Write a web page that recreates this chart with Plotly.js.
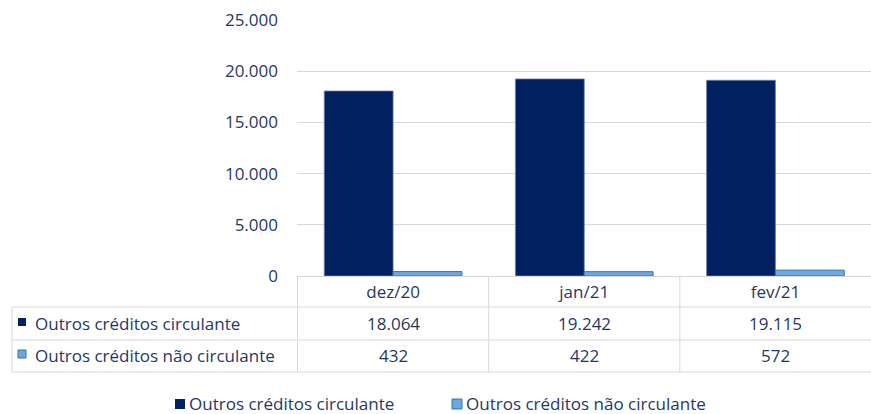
<!DOCTYPE html>
<html>
<head>
<meta charset="utf-8">
<script src="https://cdn.plot.ly/plotly-3.0.1.min.js"></script>
<style>html,body{margin:0;padding:0;background:#fff;}#chart{width:871px;height:414px;}</style>
</head>
<body>
<div id="chart"></div>
<script>
const categories = ['dez/20', 'jan/21', 'fev/21'];
const seriesNames = ['Outros créditos circulante', 'Outros créditos não circulante'];
const circulante = [18064, 19242, 19115];
const naoCirculante = [432, 422, 572];
const yTicks = [0, 5000, 10000, 15000, 20000, 25000];

const colorDark = '#002060';
const colorLight = '#6FA8DC';
const textColor = '#1F3864';
const gridColor = '#D9D9D9';
const FONT = 'Open Sans, Noto Sans, sans-serif';
const FS = 17;

function fmt(v) { return String(v).replace(/\B(?=(\d{3})+(?!\d))/g, '.'); }

const W = 871, H = 414, L = 297, T = 20, B = 138;
const plotW = W - L, plotH = H - T - B;
const px = x => (x - L) / plotW;
const py = y => (H - B - y) / plotH;

const seriesColors = [colorDark, colorLight];
const seriesLines = [{color: '#6B7FAE', width: 0.8}, {color: '#2E75B6', width: 1}];

const traces = [
  {type: 'bar', name: seriesNames[0], x: categories, y: circulante,
   marker: {color: seriesColors[0], line: seriesLines[0]}, hoverinfo: 'skip', showlegend: false},
  {type: 'bar', name: seriesNames[1], x: categories, y: naoCirculante,
   marker: {color: seriesColors[1], line: seriesLines[1]}, hoverinfo: 'skip', showlegend: false}
];

const shapes = [];
const lineStyle = {color: gridColor, width: 1};
// horizontal table lines
[307, 340, 372].forEach(y => shapes.push({type: 'line', xref: 'paper', yref: 'paper',
  x0: px(12), x1: 1, y0: py(y), y1: py(y), line: lineStyle}));
// vertical table lines
shapes.push({type: 'line', xref: 'paper', yref: 'paper', x0: px(12), x1: px(12), y0: py(307), y1: py(372), line: lineStyle});
[-0.5, 0.5, 1.5].forEach(xv => shapes.push({type: 'line', xref: 'x', yref: 'paper',
  x0: xv, x1: xv, y0: 0, y1: py(372), line: lineStyle}));

const annotations = [];
const keyFont = {family: FONT, size: FS, color: textColor};

// legend keys inside table rows
const rowY = [323, 355];
seriesNames.forEach((n, i) => {
  shapes.push({type: 'rect', xref: 'paper', yref: 'paper', x0: px(18), x1: px(26),
    y0: py(rowY[i] - 5), y1: py(rowY[i] + 3), fillcolor: seriesColors[i],
    line: i === 1 ? {color: '#2E75B6', width: 1} : {width: 0}});
  annotations.push({xref: 'paper', yref: 'paper', x: px(33), y: py(rowY[i]),
    xanchor: 'left', yanchor: 'middle', text: n, showarrow: false, font: keyFont});
});
const rowData = [circulante, naoCirculante];
rowData.forEach((arr, i) => arr.forEach((v, j) => annotations.push({xref: 'x', yref: 'paper', x: categories[j], y: py(rowY[i]),
  xanchor: 'center', yanchor: 'middle', text: fmt(v), showarrow: false, font: keyFont})));

// bottom legend
const legendX = [175, 452];
seriesNames.forEach((n, i) => {
  shapes.push({type: 'rect', xref: 'paper', yref: 'paper', x0: px(legendX[i]), x1: px(legendX[i] + 10),
    y0: py(409), y1: py(399), fillcolor: seriesColors[i],
    line: i === 1 ? {color: '#2E75B6', width: 1} : {width: 0}});
  annotations.push({xref: 'paper', yref: 'paper', x: px(legendX[i] + 12), y: py(403),
    xanchor: 'left', yanchor: 'middle', text: n, showarrow: false, font: keyFont});
});

const layout = {
  width: W, height: H,
  margin: {l: L, r: 0, t: T, b: B, pad: 0},
  paper_bgcolor: '#fff', plot_bgcolor: '#fff',
  separators: ',.',
  font: {family: FONT, size: FS, color: textColor},
  barmode: 'group', bargap: 0.28, bargroupgap: 0,
  xaxis: {type: 'category', categoryorder: 'array', categoryarray: categories,
    showgrid: false, showline: true, linecolor: gridColor, linewidth: 1, ticks: '', ticklabelstandoff: 1,
    tickfont: {family: FONT, size: FS, color: textColor}, fixedrange: true},
  yaxis: {range: [0, 25000], tickvals: yTicks, tickformat: ',', showgrid: true, gridcolor: gridColor, gridwidth: 1,
    zeroline: false, showline: false, ticks: '', ticklabelstandoff: 18,
    tickfont: {family: FONT, size: FS, color: textColor}, fixedrange: true},
  showlegend: false,
  shapes: shapes, annotations: annotations
};

Plotly.newPlot('chart', traces, layout, {displayModeBar: false, staticPlot: true});
</script>
</body>
</html>
